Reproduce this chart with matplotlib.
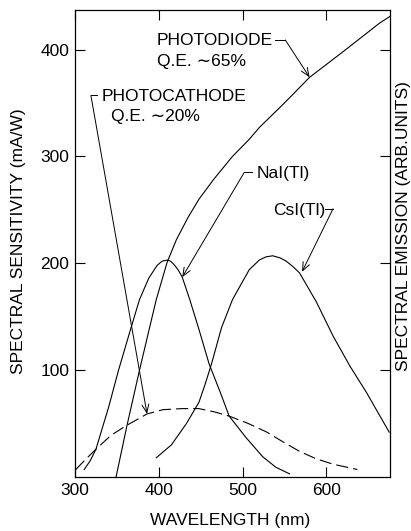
import matplotlib
matplotlib.use("Agg")
import matplotlib.pyplot as plt

plt.rcParams['font.family'] = ['Liberation Sans', 'DejaVu Sans']

# photodiode sensitivity (mA/W)
pd_wl = [349, 362, 377, 390, 397, 410, 421, 435, 448, 466, 488, 508, 520, 550, 580, 620, 664, 676]
pd_val = [0, 48, 100, 143, 166, 201, 222, 243, 260, 279, 300, 316, 327, 350, 374, 398, 425, 431]

# photocathode sensitivity (dashed)
pc_wl = [301, 312, 325, 343, 361, 386, 405, 428, 448, 466, 484, 507, 529, 548, 568, 588, 608, 637]
pc_val = [7, 16, 26, 39, 48, 59, 63, 64, 64, 61, 57, 50, 42, 33, 24, 17, 12, 7]

# NaI(Tl) emission
nai_wl = [311, 318, 325, 340, 352, 367, 377, 388, 398, 404, 410, 414, 418, 423, 428, 437, 448,
          460, 474, 484, 504, 524, 540, 556]
nai_val = [7, 15, 26, 65, 100, 140, 166, 186, 198, 202, 203, 202, 199, 194, 187, 166, 138,
           106, 78, 57, 37, 19, 9, 3]

# CsI(Tl) emission
csi_wl = [397, 415, 433, 448, 455, 463, 475, 488, 508, 520, 528, 536, 545, 552, 560, 568, 588,
          608, 628, 648, 675]
csi_val = [18, 30, 50, 70, 86, 106, 140, 166, 194, 203, 206, 207, 205, 202, 197, 191, 164,
           132, 104, 79, 42]

x_ticks = [300, 400, 500, 600]
y_ticks = [100, 200, 300, 400]

fig = plt.figure(figsize=(4.11, 5.31), dpi=100)
ax = fig.add_axes([75 / 411, 1 - 477 / 531, 315 / 411, 467 / 531])

lw = 0.8
ax.plot(pd_wl, pd_val, color='black', lw=lw)
ax.plot(nai_wl, nai_val, color='black', lw=lw)
ax.plot(csi_wl, csi_val, color='black', lw=lw)
ax.plot(pc_wl, pc_val, color='black', lw=lw, dashes=(11, 4.5))

ax.set_xlim(300, 676)
ax.set_ylim(0, 437)
ax.set_xticks(x_ticks)
ax.set_yticks(y_ticks)
ax.tick_params(direction='in', length=7, width=0.8, top=True, right=True,
               labelsize=12.5, pad=4)
for s in ax.spines.values():
    s.set_linewidth(0.9)

fs = 12.5
arrow = dict(arrowstyle='->,head_length=0.6,head_width=0.25', lw=0.7,
             color='black', shrinkA=0, shrinkB=0)


def leader(p0, p1, tip):
    ax.plot([p0[0], p1[0]], [p0[1], p1[1]], color='black', lw=0.7)
    ax.annotate('', xy=tip, xytext=p1, arrowprops=arrow)


# labels and leaders
ax.text(398, 408, 'PHOTODIODE', fontsize=fs, va='center', ha='left')
ax.text(398, 389, 'Q.E. \u223c65%', fontsize=fs, va='center', ha='left')
leader((539, 409), (551, 409), (580, 374))

ax.text(332, 356, 'PHOTOCATHODE', fontsize=fs, va='center', ha='left')
ax.text(343, 337, 'Q.E. \u223c20%', fontsize=fs, va='center', ha='left')
leader((326, 357), (319, 357), (386, 59))

ax.text(517, 284, 'NaI(Tl)', fontsize=fs, va='center', ha='left')
leader((511, 285), (502, 285), (428, 187))

ax.text(537, 249, 'CsI(Tl)', fontsize=fs, va='center', ha='left')
leader((598, 251), (608, 251), (571, 192))

fig.text(19 / 411, 1 - 241 / 531, 'SPECTRAL SENSITIVITY (mA/W)', rotation=90,
         fontsize=fs, ha='center', va='center')
fig.text(403 / 411, 1 - 226 / 531, 'SPECTRAL EMISSION (ARB.UNITS)', rotation=90,
         fontsize=fs, ha='center', va='center')
fig.text(230 / 411, 1 - 520 / 531, 'WAVELENGTH (nm)', fontsize=fs,
         ha='center', va='center')

fig.savefig('out.png', dpi=100)
